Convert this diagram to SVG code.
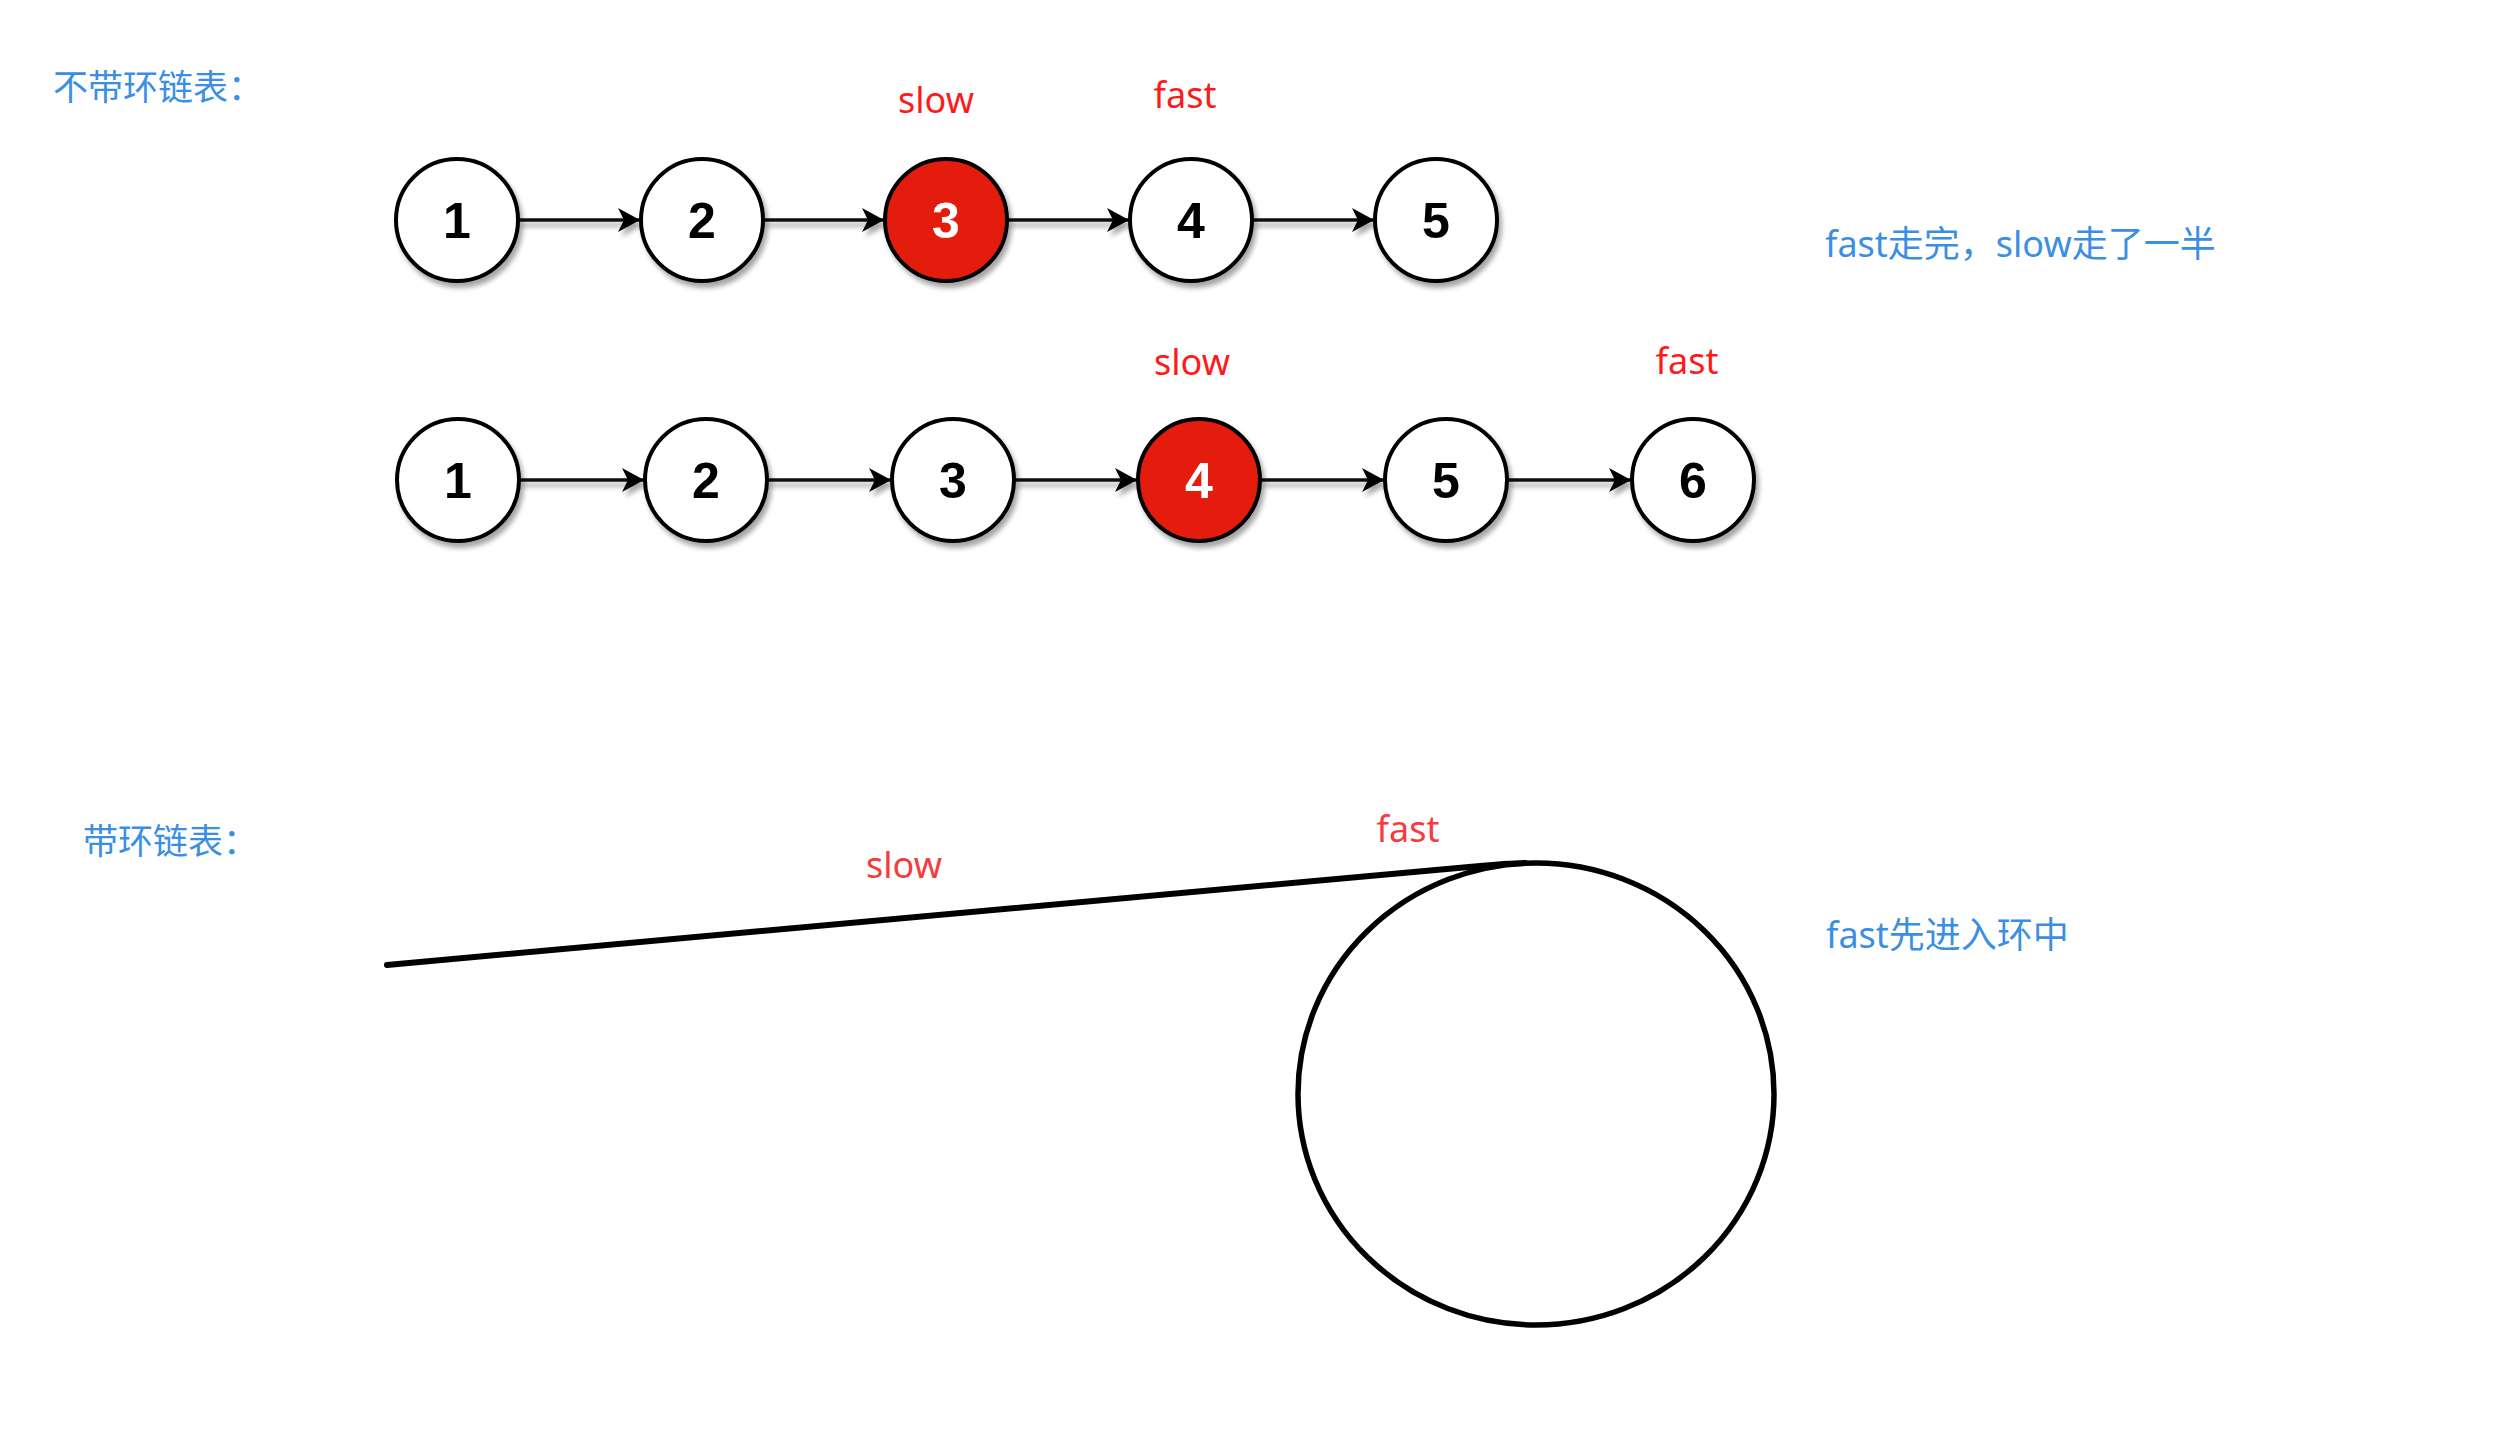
<svg xmlns="http://www.w3.org/2000/svg" width="2517" height="1456" viewBox="0 0 2517 1456">
<style>
.node circle{stroke:#000;stroke-width:4;fill:#fff}
.node.hot circle{fill:#e31a0a}
.node text{font-family:"Liberation Sans",Arial,sans-serif;font-weight:bold;font-size:50px;text-anchor:middle;fill:#000}
.node.hot text{fill:#fff}
.edge{stroke:#111;stroke-width:3.5;fill:none}
.lbl{font-family:"Noto Sans","Noto Sans CJK SC",sans-serif;font-size:36px}
.red{fill:#ff1a1a;text-anchor:middle}
.red2{fill:#f53c3c;text-anchor:middle}
.blue{fill:#3b8fe3}
.title{font-family:"Noto Sans CJK SC","Noto Sans",sans-serif;font-size:35px;fill:#3b8fe3}
</style>
<defs>
<filter id="sh" x="-20%" y="-20%" width="150%" height="150%">
<feDropShadow dx="3" dy="5" stdDeviation="2.5" flood-color="#000" flood-opacity="0.35"/>
</filter>
<marker id="ah" markerUnits="userSpaceOnUse" markerWidth="24" markerHeight="24" refX="22" refY="12" orient="auto">
<path d="M0,0 L22,12 L0,24 L6,12 Z" fill="#000"/>
</marker>
</defs>
<rect width="2517" height="1456" fill="#fff"/>

<text class="title" x="53" y="100">不带环链表：</text>
<text class="title" x="83" y="854">带环链表：</text>

<g id="connectors">
<g filter="url(#sh)">
<line class="edge" x1="518" y1="220" x2="640" y2="220" marker-end="url(#ah)"/>
<line class="edge" x1="763" y1="220" x2="884" y2="220" marker-end="url(#ah)"/>
<line class="edge" x1="1007" y1="220" x2="1129" y2="220" marker-end="url(#ah)"/>
<line class="edge" x1="1252" y1="220" x2="1374" y2="220" marker-end="url(#ah)"/>
<line class="edge" x1="519" y1="480" x2="644" y2="480" marker-end="url(#ah)"/>
<line class="edge" x1="767" y1="480" x2="891" y2="480" marker-end="url(#ah)"/>
<line class="edge" x1="1014" y1="480" x2="1137" y2="480" marker-end="url(#ah)"/>
<line class="edge" x1="1260" y1="480" x2="1384" y2="480" marker-end="url(#ah)"/>
<line class="edge" x1="1507" y1="480" x2="1631" y2="480" marker-end="url(#ah)"/>
</g>
<path id="tail" d="M387,965 L1480,866 Q1505,863.5 1525,863" stroke="#000" stroke-width="6" stroke-linecap="round" fill="none"/>
</g>

<g id="row1">
<g id="r1n1" class="node" filter="url(#sh)"><circle cx="457" cy="220" r="61"/><text x="457" y="238">1</text></g>
<g id="r1n2" class="node" filter="url(#sh)"><circle cx="702" cy="220" r="61"/><text x="702" y="238">2</text></g>
<g id="r1n3" class="node hot" filter="url(#sh)"><circle cx="946" cy="220" r="61"/><text x="946" y="238">3</text></g>
<g id="r1n4" class="node" filter="url(#sh)"><circle cx="1191" cy="220" r="61"/><text x="1191" y="238">4</text></g>
<g id="r1n5" class="node" filter="url(#sh)"><circle cx="1436" cy="220" r="61"/><text x="1436" y="238">5</text></g>
</g>

<g id="row2">
<g id="r2n1" class="node" filter="url(#sh)"><circle cx="458" cy="480" r="61"/><text x="458" y="498">1</text></g>
<g id="r2n2" class="node" filter="url(#sh)"><circle cx="706" cy="480" r="61"/><text x="706" y="498">2</text></g>
<g id="r2n3" class="node" filter="url(#sh)"><circle cx="953" cy="480" r="61"/><text x="953" y="498">3</text></g>
<g id="r2n4" class="node hot" filter="url(#sh)"><circle cx="1199" cy="480" r="61"/><text x="1199" y="498">4</text></g>
<g id="r2n5" class="node" filter="url(#sh)"><circle cx="1446" cy="480" r="61"/><text x="1446" y="498">5</text></g>
<g id="r2n6" class="node" filter="url(#sh)"><circle cx="1693" cy="480" r="61"/><text x="1693" y="498">6</text></g>
</g>

<g id="ring">
<ellipse cx="1536" cy="1094" rx="238" ry="231" fill="none" stroke="#000" stroke-width="5.5"/>
</g>

<g id="labels">
<text class="lbl red" x="936" y="113">slow</text>
<text class="lbl red" x="1185" y="108">fast</text>
<text class="lbl red" x="1192" y="375">slow</text>
<text class="lbl red" x="1687" y="374">fast</text>
<text class="lbl red2" x="904" y="878">slow</text>
<text class="lbl red2" x="1408" y="842">fast</text>
<text class="lbl blue" x="1825" y="257">fast走完，slow走了一半</text>
<text class="lbl blue" x="1826" y="948">fast先进入环中</text>
</g>
</svg>
